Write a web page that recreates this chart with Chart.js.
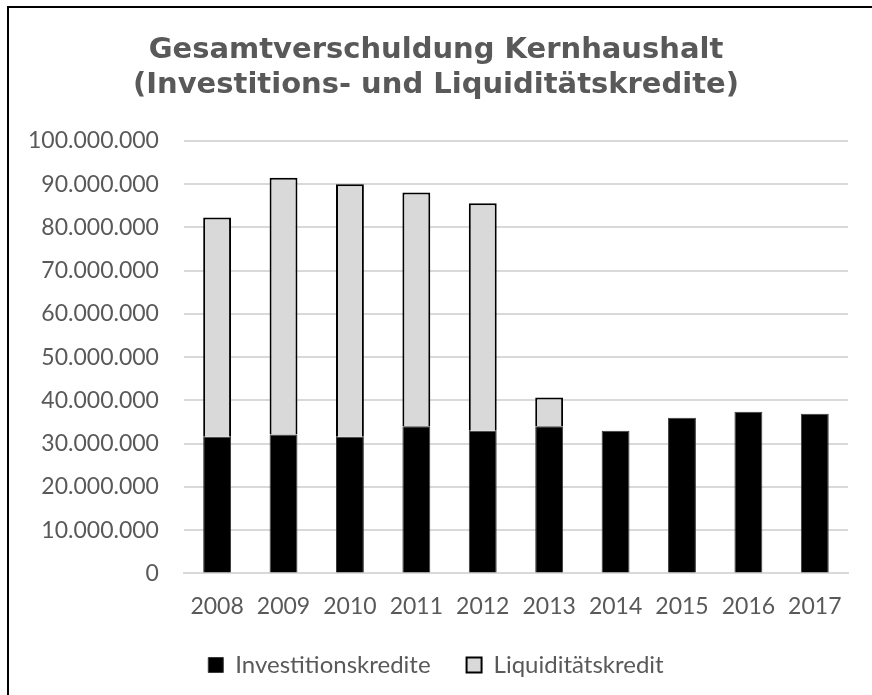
<!DOCTYPE html>
<html>
<head>
<meta charset="utf-8">
<script src="https://cdn.jsdelivr.net/npm/chart.js@4"></script>
<style>
  html, body { margin: 0; padding: 0; background: #fff; }
  #wrap { position: relative; width: 872px; height: 695px; overflow: hidden; }
  #frame { position: absolute; left: 7px; top: 6px; width: 900px; height: 900px;
           border-left: 2px solid #000; border-top: 2px solid #000; pointer-events: none; }
  canvas { position: absolute; left: 0; top: 0; }
</style>
</head>
<body>
<div id="wrap">
  <canvas id="c" width="872" height="695"></canvas>
  <div id="frame"></div>
</div>
<script>
const categories = ['2008','2009','2010','2011','2012','2013','2014','2015','2016','2017'];
const investitionskredite = [31600000, 32100000, 31600000, 34000000, 33000000, 34000000, 33000000, 36000000, 37400000, 36900000];
const liquiditaetskredit = [50700000, 59400000, 58400000, 54100000, 52600000, 6700000, 0, 0, 0, 0];
const seriesNames = ['Investitionskredite', 'Liquiditätskredit'];
const titleLines = ['Gesamtverschuldung Kernhaushalt', '(Investitions- und Liquiditätskredite)'];
const yMax = 100000000;
const yStep = 10000000;

function fmtDE(v) {
  return String(Math.round(v)).replace(/\B(?=(\d{3})+(?!\d))/g, '.');
}

const textColor = '#595959';
const tickFont = { family: 'Lato', size: 23 };
const legendFont = { family: 'Lato', size: 24 };

new Chart(document.getElementById('c'), {
  type: 'bar',
  data: {
    labels: categories,
    datasets: [
      {
        label: seriesNames[0],
        data: investitionskredite,
        backgroundColor: '#000000',
        borderColor: '#3a3a3a',
        borderWidth: 1,
        barPercentage: 0.42,
        categoryPercentage: 1.0
      },
      {
        label: seriesNames[1],
        data: liquiditaetskredit,
        backgroundColor: '#d9d9d9',
        borderColor: '#000000',
        borderWidth: 2,
        barPercentage: 0.42,
        categoryPercentage: 1.0
      }
    ]
  },
  options: {
    responsive: false,
    animation: false,
    devicePixelRatio: 1,
    layout: { padding: { left: 24, right: 24, top: 0, bottom: 8 } },
    plugins: {
      title: {
        display: true,
        text: titleLines,
        color: textColor,
        font: { family: 'DejaVu Sans', size: 29, weight: 'bold', lineHeight: 1.24 },
        padding: { top: 32, bottom: 37 }
      },
      legend: {
        position: 'bottom',
        labels: {
          color: textColor,
          font: legendFont,
          boxWidth: 15,
          boxHeight: 15,
          padding: 36
        }
      },
      tooltip: { enabled: false }
    },
    scales: {
      x: {
        stacked: true,
        grid: { display: false, drawTicks: false },
        border: { display: true, color: '#d9d9d9', width: 2 },
        ticks: { color: textColor, font: tickFont, padding: 19 },
        afterFit: (s) => { s.height -= 22; }
      },
      y: {
        stacked: true,
        min: 0,
        max: yMax,
        ticks: {
          stepSize: yStep,
          color: textColor,
          font: tickFont,
          padding: 25,
          callback: (v) => fmtDE(v)
        },
        grid: { color: '#d9d9d9', lineWidth: 2, drawTicks: false },
        border: { display: false },
        afterFit: (s) => { s.width -= 21; }
      }
    }
  }
});
</script>
</body>
</html>
